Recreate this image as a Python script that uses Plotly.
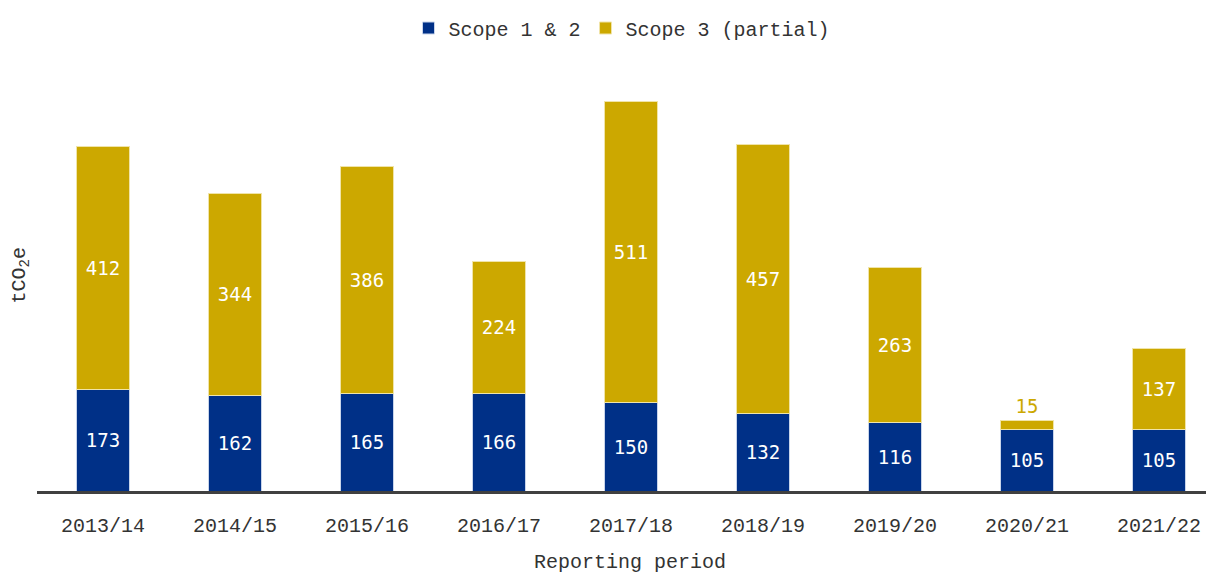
import plotly.graph_objects as go

periods = ["2013/14", "2014/15", "2015/16", "2016/17", "2017/18", "2018/19", "2019/20", "2020/21", "2021/22"]
scope12 = [173, 162, 165, 166, 150, 132, 116, 105, 105]
scope3 = [412, 344, 386, 224, 511, 457, 263, 15, 137]

BLUE = "#003087"
GOLD = "#CCA800"
MONO = "Liberation Mono, Courier New, monospace"
LBL = "DejaVu Sans Mono, monospace"

s3_pos = ["outside" if v < 40 else "inside" for v in scope3]
s3_col = [GOLD if v < 40 else "white" for v in scope3]

W, H = 1206, 564          # page has an 8px body margin
L, R, T, B = 29, 0, 52, 81
PW, PH = W - L - R, H - T - B

fig = go.Figure()
fig.add_trace(go.Bar(
    x=periods, y=scope12, name="Scope 1 & 2",
    marker=dict(color=BLUE, line=dict(color="#c8d4ea", width=1)),
    text=scope12, textposition="inside", insidetextanchor="middle",
    textfont=dict(family=LBL, size=19, color="white"),
))
fig.add_trace(go.Bar(
    x=periods, y=scope3, name="Scope 3 (partial)",
    marker=dict(color=GOLD, line=dict(color="#f0e4a8", width=1)),
    text=scope3, textposition=s3_pos, insidetextanchor="middle",
    textfont=dict(family=LBL, size=19, color=s3_col),
    cliponaxis=False,
))

fig.update_layout(
    barmode="stack",
    bargap=0.6,
    width=W, height=H,
    margin=dict(l=L, r=R, t=T, b=B, autoexpand=False),
    plot_bgcolor="white", paper_bgcolor="white",
    showlegend=True,
    legend=dict(orientation="h", x=(614 - L) / PW, xanchor="center",
                y=1 - 20 / H, yanchor="middle", yref="container",
                font=dict(family=MONO, size=20, color="#333333"),
                traceorder="normal", itemwidth=30),
    annotations=[
        dict(text="tCO<sub>2</sub>e", xref="paper", yref="paper", x=(12 - L) / PW, y=0.5,
             xanchor="center", yanchor="middle", textangle=-90, showarrow=False,
             font=dict(family=MONO, size=20, color="#333333")),
        dict(text="Reporting period", xref="paper", yref="paper", x=(622 - L) / PW, y=-71 / PH,
             xanchor="center", yanchor="middle", showarrow=False,
             font=dict(family=MONO, size=20, color="#333333")),
    ],
)
fig.update_xaxes(
    range=[-0.5, 8.417], automargin=False,
    showline=True, linecolor="#404040", linewidth=3,
    tickfont=dict(family=MONO, size=20, color="#333333"),
    ticks="", ticklabelstandoff=14,
)
fig.update_yaxes(
    range=[0, 732], automargin=False, showgrid=False, showticklabels=False, zeroline=False,
)
fig.write_html("out.html")
